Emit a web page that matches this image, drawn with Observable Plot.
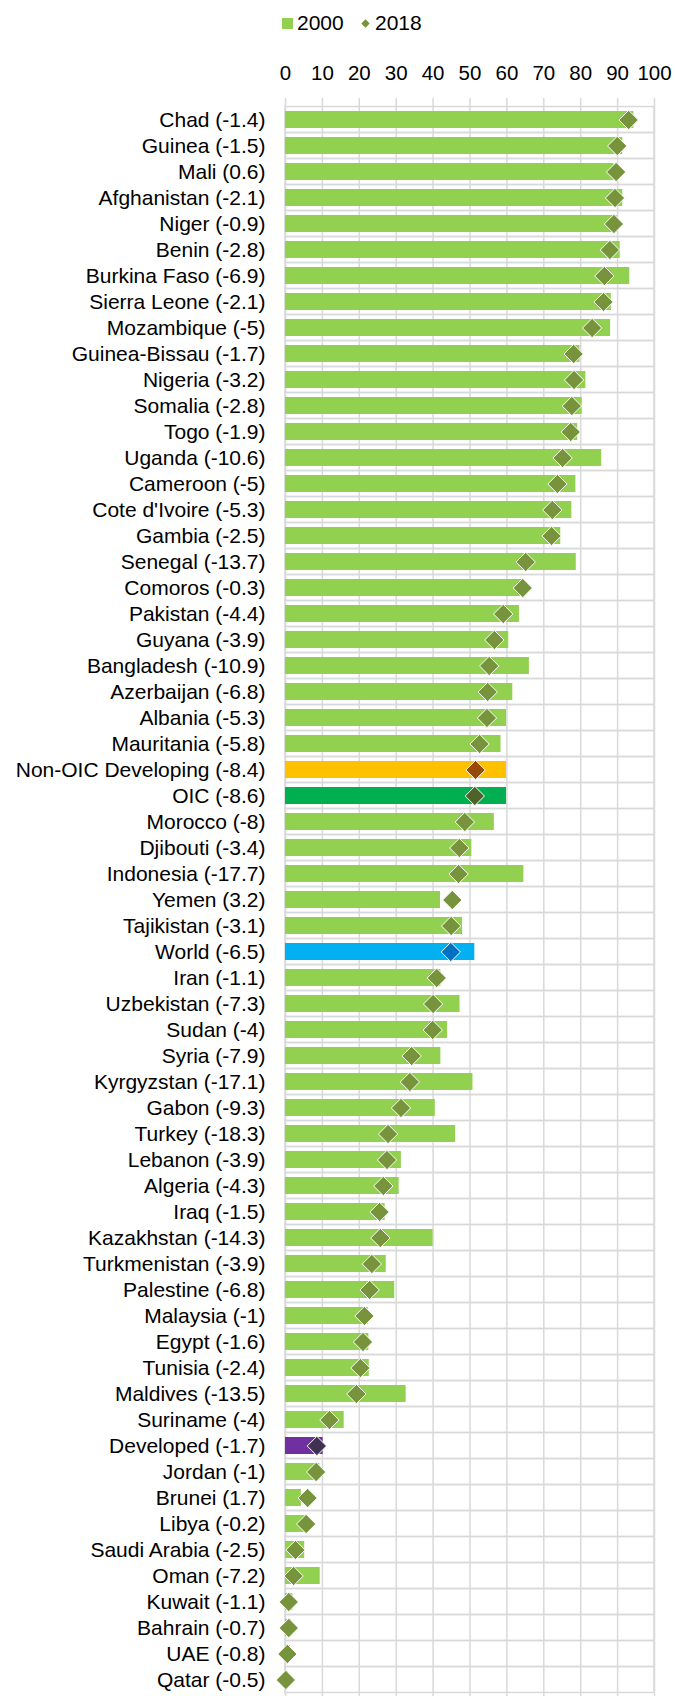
<!DOCTYPE html>
<html>
<head>
<meta charset="utf-8">
<script src="https://cdn.jsdelivr.net/npm/d3@7"></script>
<script src="https://cdn.jsdelivr.net/npm/@observablehq/plot@0.6"></script>
<style>
  html, body { margin: 0; padding: 0; background: #fff; overflow: hidden; }
  body { width: 675px; height: 1696px; font-family: "Liberation Sans", Arial, sans-serif; }
  #legend { position: relative; height: 46px; width: 675px; font-size: 21px; color: #000; }
  #legend .sw { position: absolute; }
  #legend .lb { position: absolute; top: 11px; line-height: 24px; }
</style>
</head>
<body>
<div id="legend">
  <div class="sw" style="left:282px;top:18px;width:11px;height:11px;background:#92D050"></div>
  <div class="lb" style="left:297px">2000</div>
  <svg class="sw" style="left:361px;top:19px" width="9" height="9"><path d="M4.5,0.3L8.7,4.5L4.5,8.7L0.3,4.5Z" fill="#77933C"/></svg>
  <div class="lb" style="left:375px">2018</div>
</div>
<div id="chart"></div>
<script>
const categories = ["Chad","Guinea","Mali","Afghanistan","Niger","Benin","Burkina Faso","Sierra Leone","Mozambique","Guinea-Bissau","Nigeria","Somalia","Togo","Uganda","Cameroon","Cote d'Ivoire","Gambia","Senegal","Comoros","Pakistan","Guyana","Bangladesh","Azerbaijan","Albania","Mauritania","Non-OIC Developing","OIC","Morocco","Djibouti","Indonesia","Yemen","Tajikistan","World","Iran","Uzbekistan","Sudan","Syria","Kyrgyzstan","Gabon","Turkey","Lebanon","Algeria","Iraq","Kazakhstan","Turkmenistan","Palestine","Malaysia","Egypt","Tunisia","Maldives","Suriname","Developed","Jordan","Brunei","Libya","Saudi Arabia","Oman","Kuwait","Bahrain","UAE","Qatar"];

const changes = ["-1.4","-1.5","0.6","-2.1","-0.9","-2.8","-6.9","-2.1","-5","-1.7","-3.2","-2.8","-1.9","-10.6","-5","-5.3","-2.5","-13.7","-0.3","-4.4","-3.9","-10.9","-6.8","-5.3","-5.8","-8.4","-8.6","-8","-3.4","-17.7","3.2","-3.1","-6.5","-1.1","-7.3","-4","-7.9","-17.1","-9.3","-18.3","-3.9","-4.3","-1.5","-14.3","-3.9","-6.8","-1","-1.6","-2.4","-13.5","-4","-1.7","-1","1.7","-0.2","-2.5","-7.2","-1.1","-0.7","-0.8","-0.5"];

const values2000 = [94.4,91.4,89.0,91.4,89.9,90.7,93.3,88.3,88.1,79.8,81.4,80.4,79.2,85.7,78.7,77.6,74.6,78.8,64.6,63.4,60.5,66.1,61.6,59.9,58.4,59.9,59.9,56.6,50.5,64.6,42.0,48.0,51.3,42.1,47.3,43.9,42.1,50.8,40.6,46.1,31.4,30.8,27.0,40.0,27.3,29.6,22.4,22.6,22.7,32.7,15.9,10.2,9.3,4.3,5.8,5.2,9.4,2.0,1.6,1.3,0.6];

const values2018 = [93.0,89.9,89.6,89.3,89.0,87.9,86.4,86.2,83.1,78.1,78.2,77.6,77.3,75.1,73.7,72.3,72.1,65.1,64.3,59.0,56.6,55.2,54.8,54.6,52.6,51.5,51.3,48.6,47.1,46.9,45.2,44.9,44.8,41.0,40.0,39.9,34.2,33.7,31.3,27.8,27.5,26.5,25.5,25.7,23.4,22.8,21.4,21.0,20.3,19.2,11.9,8.5,8.3,6.0,5.6,2.7,2.2,0.9,0.9,0.5,0.1];

const xTicks = [0,10,20,30,40,50,60,70,80,90,100];

// styling (not data)
const defaultBar = "#92D050", defaultDot = "#77933C";
const highlight = {
  "Non-OIC Developing": ["#FFC000", "#984807"],
  "OIC": ["#00B050", "#4F6228"],
  "World": ["#00B0F0", "#0070C0"],
  "Developed": ["#7030A0", "#403151"]
};

const rows = categories.map((c, i) => ({
  name: c, change: changes[i], v2000: values2000[i], v2018: values2018[i],
  barFill: highlight[c] ? highlight[c][0] : defaultBar,
  dotFill: highlight[c] ? highlight[c][1] : defaultDot
}));
const labelOf = new Map(rows.map(r => [r.name, `${r.name} (${r.change})`]));

const width = 675, height = 1656, marginTop = 52, marginBottom = 0, marginLeft = 285, marginRight = 21;
const step = (height - marginTop - marginBottom) / categories.length;
const halfGap = step * 0.17;
const gridColor = "#D9D9D9";

const chart = Plot.plot({
  width, height, marginTop, marginBottom, marginLeft, marginRight,
  style: { fontFamily: "'Liberation Sans', Arial, sans-serif", fontSize: "21px", color: "#000", background: "#fff" },
  x: { domain: [0, 100], ticks: xTicks },
  y: { domain: categories, paddingInner: 0.34, paddingOuter: 0.17 },
  marks: [
    Plot.barX(categories, { x1: 0, x2: 100, y: d => d, fill: "none", stroke: gridColor, strokeWidth: 1.5, insetTop: -halfGap, insetBottom: -halfGap }),
    Plot.gridX(xTicks, { stroke: gridColor, strokeOpacity: 1, strokeWidth: 1.5 }),
    Plot.barX(rows, { x: "v2000", y: "name", fill: d => d.barFill }),
    Plot.dot(rows, { x: "v2018", y: "name", symbol: "diamond2", r: 8.7, fill: d => d.dotFill, stroke: "white", strokeWidth: 1 }),
    Plot.axisX({ anchor: "top", ticks: xTicks, tickSize: 0, tickPadding: 19, fontSize: 20.5, label: null }),
    Plot.axisY({ tickSize: 0, tickPadding: 20, fontSize: 21, tickFormat: d => labelOf.get(d), label: null })
  ]
});
document.getElementById("chart").appendChild(chart);
</script>
</body>
</html>
